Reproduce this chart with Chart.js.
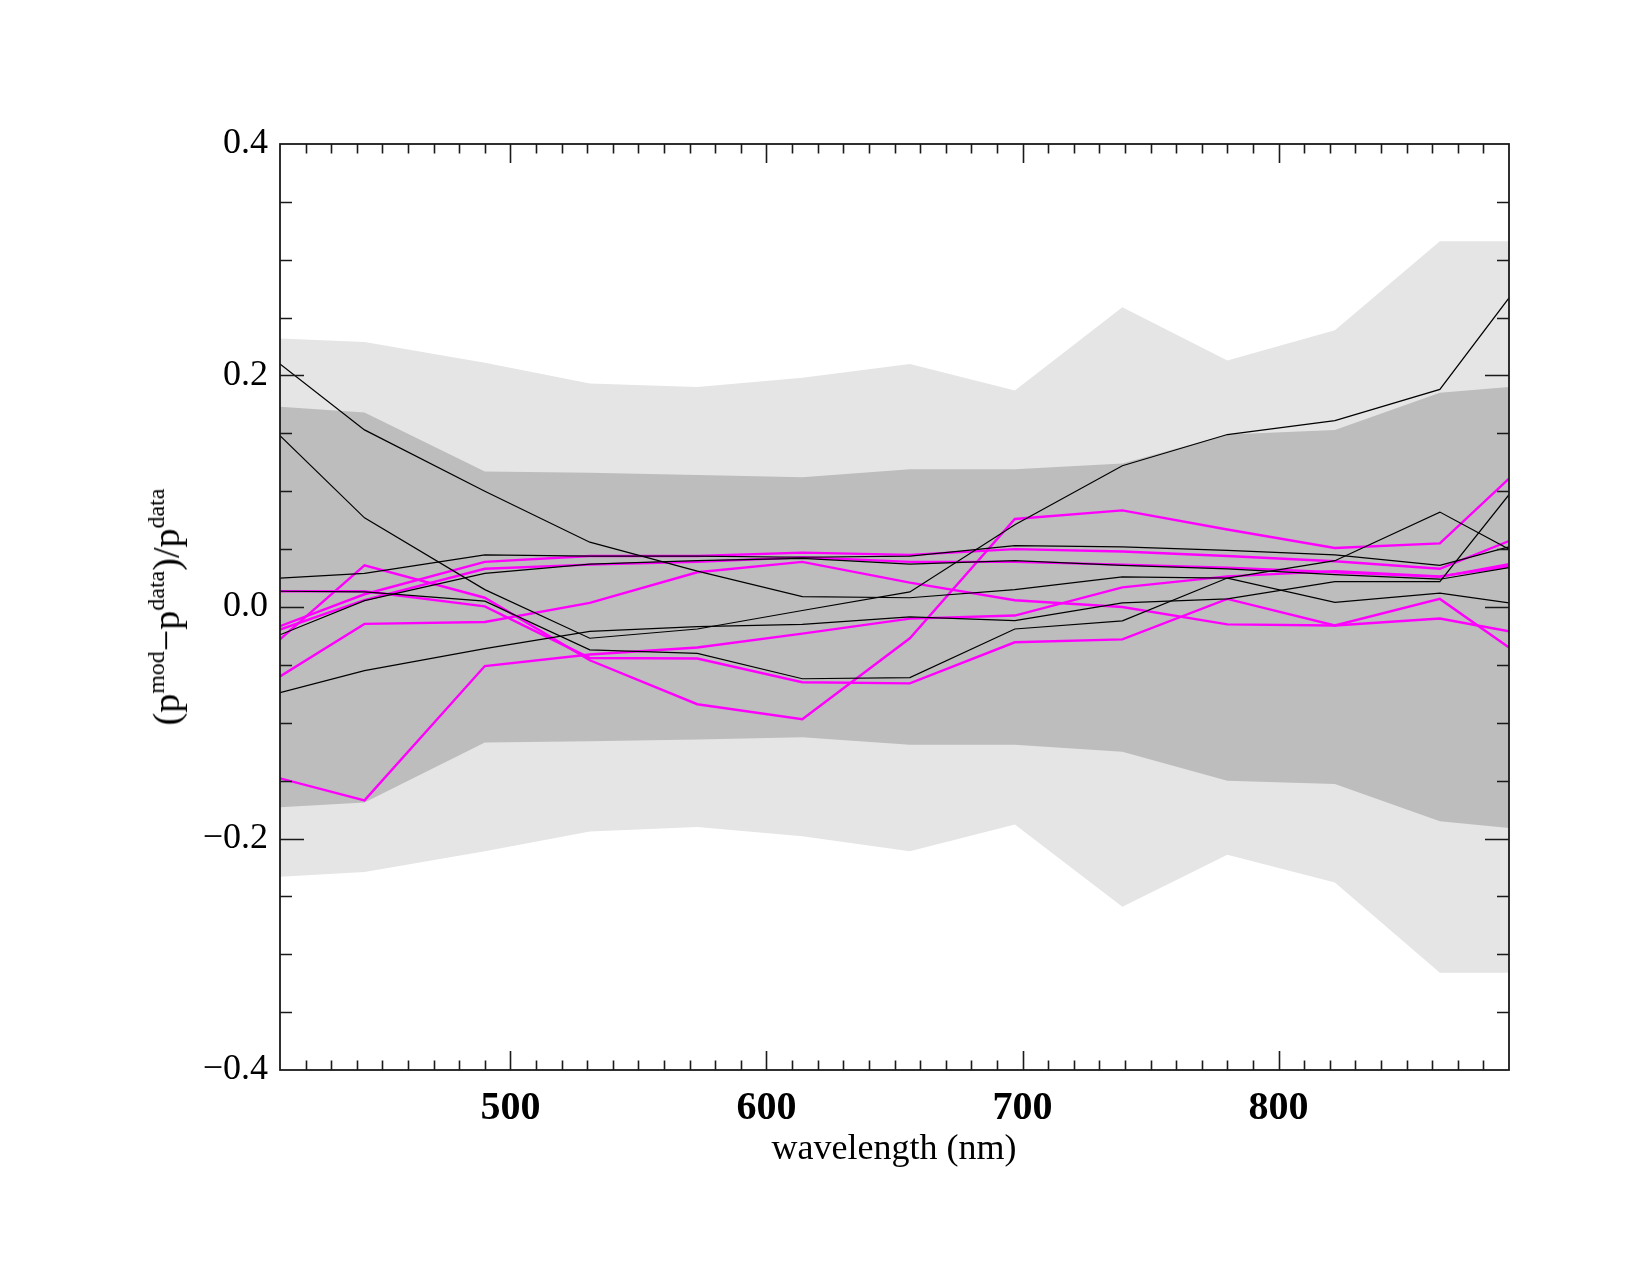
<!DOCTYPE html>
<html>
<head>
<meta charset="utf-8">
<script src="https://cdn.jsdelivr.net/npm/chart.js@4.4.1/dist/chart.umd.min.js"></script>
<style>
  html, body { margin: 0; padding: 0; background: #ffffff; }
  #wrap { position: relative; width: 1650px; height: 1275px; }
  #c { position: absolute; left: 0; top: 0; }
  .ytitle {
    position: absolute; left: 166px; top: 607px;
    transform: translate(-50%, -50%) rotate(-90deg);
    font-family: 'Liberation Serif', 'DejaVu Serif', serif; font-size: 38px;
    white-space: nowrap; color: #000; line-height: 1;
  }
  .ytitle sup { font-size: 24px; vertical-align: 0.62em; line-height: 0; }
  .xtitle {
    position: absolute; left: 894px; top: 1147px;
    transform: translate(-50%, -50%);
    font-family: 'Liberation Serif', 'DejaVu Serif', serif; font-size: 36px;
    white-space: nowrap; color: #000;
  }
</style>
</head>
<body>
<div id="wrap">
  <canvas id="c" width="1650" height="1275"></canvas>
  <div class="ytitle">(p<sup>mod</sup>−p<sup>data</sup>)/p<sup>data</sup></div>
  <div class="xtitle">wavelength (nm)</div>
</div>
<script>
// ---- data ----
const wavelengths = [410, 443, 490, 531, 573, 614, 656, 697, 739, 780, 822, 863, 890];

// shaded uncertainty envelopes
const lightUpper = [0.232, 0.229, 0.211, 0.193, 0.190, 0.198, 0.210, 0.187, 0.259, 0.213, 0.239, 0.316, 0.316];
const lightLower = [-0.233, -0.229, -0.211, -0.194, -0.190, -0.198, -0.211, -0.188, -0.259, -0.214, -0.238, -0.316, -0.316];
const darkUpper  = [0.173, 0.168, 0.117, 0.116, 0.114, 0.112, 0.119, 0.119, 0.124, 0.149, 0.153, 0.185, 0.190];
const darkLower  = [-0.173, -0.169, -0.117, -0.116, -0.1145, -0.1125, -0.119, -0.119, -0.125, -0.150, -0.153, -0.185, -0.191];

// black curves
const black1 = [0.210, 0.153, 0.100, 0.056, 0.031, 0.009, 0.008, 0.015, 0.026, 0.025, 0.004, 0.012, 0.0035];
const black2 = [0.148, 0.077, 0.015, -0.027, -0.019, -0.003, 0.013, 0.071, 0.122, 0.149, 0.161, 0.188, 0.267];
const black3 = [0.025, 0.029, 0.045, 0.044, 0.044, 0.043, 0.044, 0.053, 0.052, 0.049, 0.045, 0.036, 0.052];
const black4 = [0.0136, 0.013, 0.005, -0.037, -0.040, -0.062, -0.061, -0.019, -0.012, 0.025, 0.040, 0.082, 0.050];
const black5 = [-0.074, -0.055, -0.036, -0.021, -0.017, -0.015, -0.0086, -0.0117, 0.0035, 0.007, 0.022, 0.022, 0.097];
const black6 = [-0.024, 0.0055, 0.029, 0.037, 0.040, 0.042, 0.037, 0.040, 0.036, 0.033, 0.028, 0.024, 0.034];

// magenta curves
const magenta1 = [-0.060, -0.0146, -0.013, 0.0035, 0.030, 0.039, 0.021, 0.0058, 0.000, -0.015, -0.016, -0.010, -0.021];
const magenta2 = [-0.028, 0.036, 0.008, -0.046, -0.084, -0.097, -0.027, 0.076, 0.0835, 0.067, 0.051, 0.055, 0.111];
const magenta3 = [0.0136, 0.0136, 0.0006, -0.044, -0.0445, -0.065, -0.066, -0.0305, -0.028, 0.007, -0.016, 0.007, -0.035];
const magenta4 = [-0.148, -0.167, -0.051, -0.041, -0.035, -0.023, -0.010, -0.0074, 0.017, 0.0265, 0.031, 0.0265, 0.035];
const magenta5 = [-0.0166, 0.011, 0.039, 0.044, 0.044, 0.047, 0.045, 0.050, 0.048, 0.044, 0.0395, 0.033, 0.057];
const magenta6 = [-0.0195, 0.006, 0.033, 0.0366, 0.039, 0.043, 0.039, 0.039, 0.0366, 0.034, 0.030, 0.026, 0.037];

const xTickValues = [500, 600, 700, 800];
const yTickValues = [-0.4, -0.2, 0.0, 0.2, 0.4];

// ---- build chart ----
const pts = arr => arr.map((v, i) => ({ x: wavelengths[i], y: v }));

const LIGHT = '#e5e5e5';
const DARK = '#bdbdbd';

function band(arr, color, order) {
  return { data: pts(arr), borderWidth: 0, borderColor: 'rgba(0,0,0,0)', backgroundColor: color,
           fill: 'origin', pointRadius: 0, tension: 0, order: order };
}
function curve(arr, color, width) {
  return { data: pts(arr), borderColor: color, borderWidth: width, fill: false,
           pointRadius: 0, tension: 0, order: 1 };
}

const datasets = [
  band(lightUpper, LIGHT, 30), band(lightLower, LIGHT, 30),
  band(darkUpper, DARK, 20), band(darkLower, DARK, 20),
  curve(black1, '#000000', 1.2), curve(black2, '#000000', 1.2), curve(black3, '#000000', 1.2),
  curve(black4, '#000000', 1.2), curve(black5, '#000000', 1.2), curve(black6, '#000000', 1.2),
  curve(magenta1, '#ff00ff', 2.4), curve(magenta2, '#ff00ff', 2.4), curve(magenta3, '#ff00ff', 2.4),
  curve(magenta4, '#ff00ff', 2.4), curve(magenta5, '#ff00ff', 2.4), curve(magenta6, '#ff00ff', 2.4)
];

const frame = {
  id: 'frame',
  afterDatasetsDraw(chart) {
    const { ctx, chartArea: { left, right, top, bottom }, scales: { x, y } } = chart;
    ctx.save();
    ctx.strokeStyle = '#1a1a1a';
    ctx.lineWidth = 1.6;
    ctx.beginPath();
    // x ticks (every 10 nm, major every 100 nm), pointing inward
    for (let v = 420; v <= 880; v += 10) {
      const px = Math.round(x.getPixelForValue(v)) + 0.5;
      const len = (v % 100 === 0) ? 19 : 9.5;
      ctx.moveTo(px, bottom); ctx.lineTo(px, bottom - len);
      ctx.moveTo(px, top); ctx.lineTo(px, top + len);
    }
    // y ticks (every 0.05, major every 0.2)
    for (let k = -7; k <= 7; k++) {
      const py = Math.round(y.getPixelForValue(k * 0.05)) + 0.5;
      const len = (k % 4 === 0) ? 24 : 12;
      ctx.moveTo(left, py); ctx.lineTo(left + len, py);
      ctx.moveTo(right, py); ctx.lineTo(right - len, py);
    }
    ctx.stroke();
    ctx.lineWidth = 1.8;
    ctx.strokeRect(left, top, right - left, bottom - top);
    ctx.restore();
  }
};

new Chart(document.getElementById('c'), {
  type: 'line',
  data: { datasets },
  options: {
    responsive: false,
    animation: false,
    devicePixelRatio: 1,
    layout: { padding: { left: 0, right: 141, top: 144, bottom: 0 } },
    plugins: { legend: { display: false }, tooltip: { enabled: false } },
    scales: {
      x: {
        type: 'linear', min: 410, max: 890,
        grid: { display: false, drawTicks: false },
        border: { display: false },
        afterBuildTicks: s => { s.ticks = xTickValues.map(v => ({ value: v })); },
        afterFit: s => { s.height = 205; },
        ticks: {
          color: '#000', padding: 15, maxRotation: 0,
          font: { family: "'Liberation Serif', serif", size: 40, weight: 'bold' },
          callback: v => String(v)
        }
      },
      y: {
        type: 'linear', min: -0.4, max: 0.4,
        grid: { display: false, drawTicks: false },
        border: { display: false },
        afterBuildTicks: s => { s.ticks = yTickValues.map(v => ({ value: v })); },
        afterFit: s => { s.width = 280; },
        ticks: {
          color: '#000', padding: 12,
          font: { family: "'Liberation Serif', serif", size: 36 },
          callback: v => (Math.abs(v) < 1e-9 ? '0.0' : v.toFixed(1).replace('-', '\u2212'))
        }
      }
    }
  },
  plugins: [frame]
});
</script>
</body>
</html>
